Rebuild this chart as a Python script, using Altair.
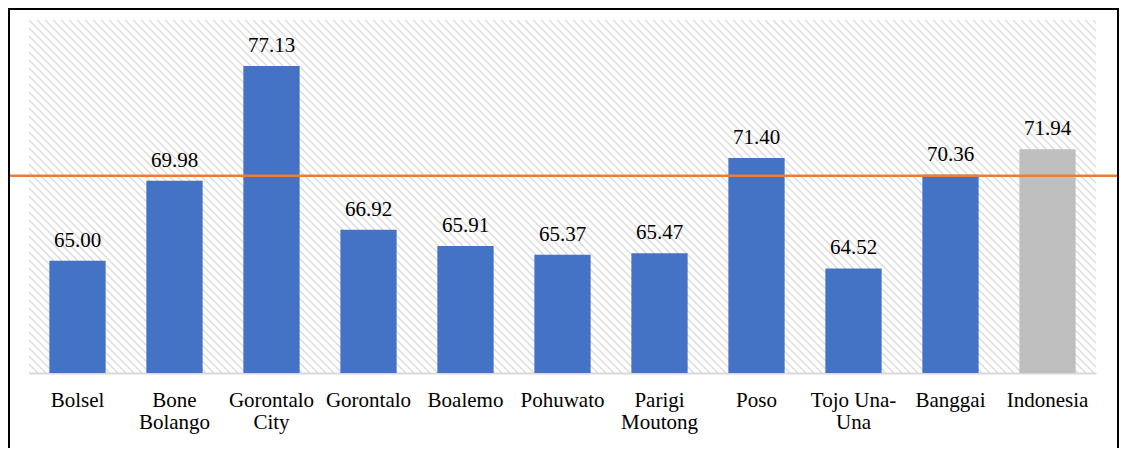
import altair as alt
import pandas as pd

regions = ["Bolsel", "Bone\nBolango", "Gorontalo\nCity", "Gorontalo", "Boalemo",
           "Pohuwato", "Parigi\nMoutong", "Poso", "Tojo Una-\nUna", "Banggai", "Indonesia"]
values = [65.00, 69.98, 77.13, 66.92, 65.91, 65.37, 65.47, 71.40, 64.52, 70.36, 71.94]
reference_line = 70.3

W, H = 1067, 353
df = pd.DataFrame({"region": regions, "value": values})

FONT = "Liberation Serif, Times New Roman, serif"
yscale = alt.Scale(domain=[58, 80], nice=False, zero=False)
xenc = alt.X("region:N", sort=None,
             scale=alt.Scale(paddingInner=0.42, paddingOuter=0.21),
             axis=alt.Axis(title=None, labelAngle=0, ticks=False,
                           domainColor="#d9d9d9", domainWidth=2,
                           labelFont=FONT, labelFontSize=21,
                           labelColor="black", labelBaseline="alphabetic",
                           labelPadding=33, labelLineHeight=22,
                           labelExpr="split(datum.label, '\\n')"))

base = alt.Chart(df)
bars = base.mark_bar(clip=True).encode(
    x=xenc,
    y=alt.Y("value:Q", scale=yscale, axis=None),
    y2=alt.datum(58),
    color=alt.condition(alt.datum.region == "Indonesia", alt.value("#BFBFBF"), alt.value("#4472C4")),
)
labels = base.mark_text(dy=-14, baseline="alphabetic", font=FONT,
                        fontSize=21, color="black").encode(
    x=alt.X("region:N", sort=None), y=alt.Y("value:Q", scale=yscale),
    text=alt.Text("value:Q", format=".2f"))
rule = alt.Chart(alt.Data(values=[{}])).mark_rule(color="#ED7D31", strokeWidth=2.5).encode(
    y=alt.datum(reference_line, scale=yscale), x=alt.value(-21), x2=alt.value(1092))

main = alt.layer(bars, labels, rule)

hatch = alt.Chart(alt.sequence(start=-46, stop=136, as_="k")).transform_calculate(
    xa="datum.k*8", xb="datum.k*8+353", ya="353", yb="0"
).mark_rule(clip=True, color="#dcdcdc", strokeWidth=1.5).encode(
    x=alt.X("xa:Q", scale=alt.Scale(domain=[0, W], nice=False, zero=False), axis=None),
    x2="xb:Q",
    y=alt.Y("ya:Q", scale=alt.Scale(domain=[0, H], nice=False, zero=False), axis=None),
    y2="yb:Q",
)

frame = alt.Chart(alt.Data(values=[{}])).mark_rect(fill=None, stroke="black", strokeWidth=2).encode(
    x=alt.value(-20), x2=alt.value(1089), y=alt.value(-11), y2=alt.value(520))

chart = alt.layer(hatch, main, frame).resolve_scale(x="independent", y="independent").properties(
    width=W, height=H,
    autosize=alt.AutoSizeParams(type="none"),
    padding={"left": 21, "top": 12, "right": 23, "bottom": 75},
).configure_view(stroke=None)

chart.save("out.html", embed_options={"renderer": "svg", "actions": False})
